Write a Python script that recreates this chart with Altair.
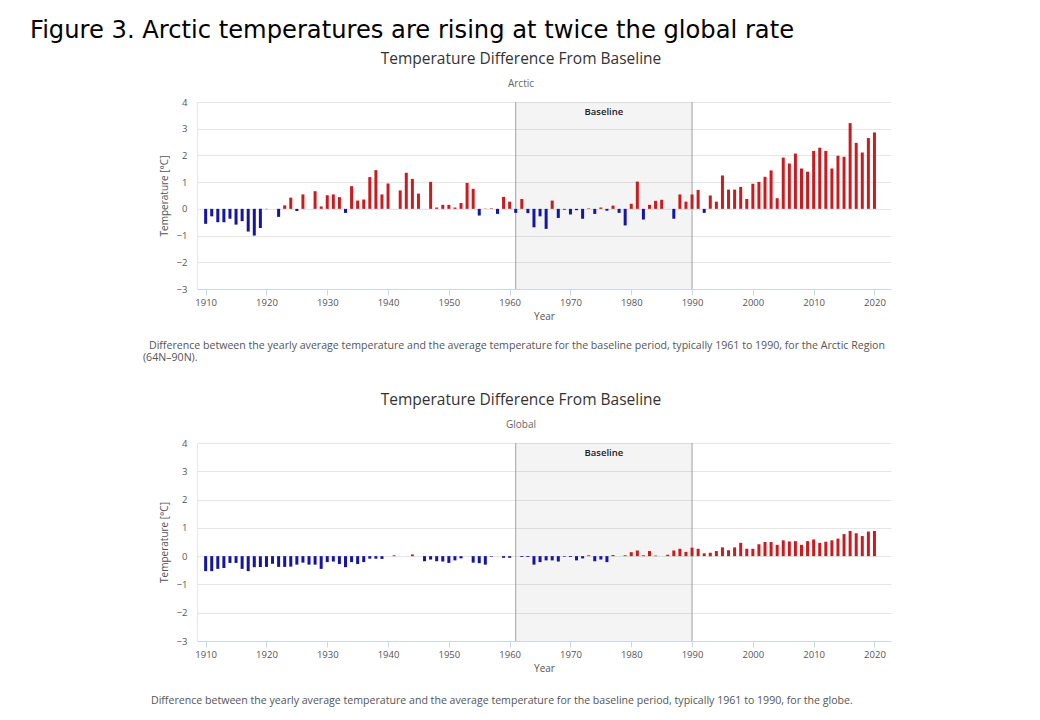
import altair as alt
import pandas as pd

years = list(range(1910, 2021))

arctic = [
    -0.56, -0.28, -0.50, -0.50, -0.37, -0.59, -0.46, -0.85, -1.00, -0.72,
    -0.01, 0.00, -0.30, 0.13, 0.42, -0.08, 0.54, 0.00, 0.66, 0.09,
    0.51, 0.54, 0.44, -0.15, 0.85, 0.31, 0.35, 1.19, 1.45, 0.54,
    0.95, 0.00, 0.69, 1.35, 1.12, 0.57, 0.00, 1.01, 0.05, 0.15,
    0.15, 0.05, 0.22, 0.97, 0.75, -0.25, 0.01, 0.02, -0.19, 0.45,
    0.27, -0.15, 0.37, -0.16, -0.69, -0.28, -0.75, 0.31, -0.34, -0.03,
    -0.21, -0.05, -0.37, 0.02, -0.19, 0.05, -0.07, 0.12, -0.15, -0.62,
    0.19, 1.02, -0.40, 0.15, 0.30, 0.34, 0.00, -0.37, 0.54, 0.27,
    0.54, 0.71, -0.15, 0.50, 0.27, 1.25, 0.72, 0.72, 0.82, 0.37,
    0.94, 1.01, 1.20, 1.44, 0.40, 1.92, 1.70, 2.07, 1.51, 1.39,
    2.17, 2.29, 2.17, 1.51, 1.99, 1.95, 3.21, 2.47, 2.11, 2.65,
    2.86,
]

global_vals = [
    -0.53, -0.53, -0.45, -0.42, -0.24, -0.24, -0.45, -0.53, -0.39, -0.38,
    -0.38, -0.27, -0.38, -0.38, -0.37, -0.30, -0.23, -0.30, -0.30, -0.45,
    -0.21, -0.19, -0.28, -0.39, -0.21, -0.28, -0.21, -0.09, -0.09, -0.10,
    0.00, 0.03, 0.00, 0.00, 0.06, 0.00, -0.18, -0.12, -0.18, -0.19,
    -0.24, -0.15, -0.08, 0.00, -0.23, -0.25, -0.30, -0.02, 0.00, -0.06,
    -0.06, 0.00, -0.03, -0.03, -0.30, -0.21, -0.15, -0.15, -0.19, -0.02,
    -0.03, -0.15, -0.08, 0.03, -0.18, -0.12, -0.21, 0.04, 0.00, 0.03,
    0.14, 0.20, 0.03, 0.18, 0.02, 0.00, 0.05, 0.20, 0.26, 0.15,
    0.30, 0.26, 0.10, 0.12, 0.18, 0.31, 0.21, 0.31, 0.47, 0.26,
    0.26, 0.42, 0.50, 0.50, 0.40, 0.56, 0.52, 0.53, 0.40, 0.53,
    0.59, 0.47, 0.51, 0.56, 0.62, 0.78, 0.89, 0.81, 0.71, 0.87,
    0.89,
]

baseline_start = [1961]
baseline_end = [1990]
baseline_label = ["Baseline"]

x_ticks = list(range(1910, 2021, 10))
y_ticks = [-3, -2, -1, 0, 1, 2, 3, 4]

fig_title = "Figure 3. Arctic temperatures are rising at twice the global rate"
panel_title = "Temperature Difference From Baseline"
arctic_caption = [
    "Difference between the yearly average temperature and the average temperature for the baseline period, typically 1961 to 1990, for the Arctic Region",
    "(64N\u201390N).",
]
global_caption = [
    "Difference between the yearly average temperature and the average temperature for the baseline period, typically 1961 to 1990, for the globe.",
]

RED = "#cc1b1f"
BLUE = "#1414a6"
FONT = "Open Sans"
W = 694

X_AXIS = alt.Axis(
    title="Year", values=x_ticks, format="d", grid=False,
    domainColor="#ccd6eb", tickColor="#ccd6eb", tickSize=6,
    labelColor="#555555", labelFont=FONT, labelFontSize=9.5,
    labelPadding=2, titleFont=FONT, titleFontSize=10,
    titleColor="#555555", titleFontWeight="normal", titlePadding=5,
)


def panel(values, height, subtitle, captions, cap_x, cap_off):
    xs = alt.Scale(domain=[1909.4, 2021.9], nice=False, zero=False)
    ys = alt.Scale(domain=[-3, 4], nice=False)
    df = pd.DataFrame({"year": years, "temp": values})
    band_df = pd.DataFrame({
        "start": baseline_start,
        "end": baseline_end,
        "mid": [(s + e) / 2 for s, e in zip(baseline_start, baseline_end)],
        "label": baseline_label,
    })
    band = alt.Chart(band_df)
    rect = band.mark_rect(color="#000000", opacity=0.045).encode(
        x=alt.X("start:Q", scale=xs, axis=X_AXIS),
        x2="end:Q",
        y=alt.value(0),
        y2=alt.value(height),
    )
    rule1 = band.mark_rule(color="#a0a0a0", strokeWidth=1).encode(
        x=alt.X("start:Q", scale=xs, axis=X_AXIS), y=alt.value(0), y2=alt.value(height)
    )
    rule2 = band.mark_rule(color="#a0a0a0", strokeWidth=1).encode(
        x=alt.X("end:Q", scale=xs, axis=X_AXIS), y=alt.value(0), y2=alt.value(height)
    )
    lbl = band.mark_text(font=FONT, fontSize=9.5, fontWeight=600, color="#222222", baseline="middle").encode(
        x=alt.X("mid:Q", scale=xs, axis=X_AXIS), y=alt.value(10), text="label:N"
    )
    bars = alt.Chart(df).mark_bar(width=3).encode(
        x=alt.X("year:Q", scale=xs, axis=X_AXIS),
        y=alt.Y(
            "temp:Q", scale=ys,
            axis=alt.Axis(
                title="Temperature [\u00b0C]", values=y_ticks, grid=True,
                gridColor="#e6e6e6", domain=True, domainColor="#e6e6e6", ticks=False,
                labelColor="#555555", labelFont=FONT, labelFontSize=9.5,
                labelPadding=10, titleFont=FONT, titleFontSize=10,
                titleColor="#555555", titleFontWeight="normal", titlePadding=7,
            ),
        ),
        color=alt.condition("datum.temp >= 0", alt.value(RED), alt.value(BLUE)),
    )
    layers = [rect, rule1, rule2, lbl, bars]
    for i, line in enumerate(captions):
        cdf = pd.DataFrame({"t": [line]})
        layers.append(
            alt.Chart(cdf).mark_text(
                font=FONT, fontSize=10.6, color="#555555", align="left", baseline="middle"
            ).encode(
                x=alt.value(cap_x[i]), y=alt.value(height + cap_off + 12 * i), text="t:N"
            )
        )
    return alt.layer(*layers).properties(
        width=W,
        height=height,
        title=alt.TitleParams(
            text=panel_title, subtitle=subtitle, anchor="middle", frame="group",
            dx=-23, font=FONT, fontSize=15.5, fontWeight="normal", color="#333333",
            subtitleFont=FONT, subtitleFontSize=10, subtitleColor="#666666",
            subtitlePadding=12, offset=8,
        ),
    )


top = panel(arctic, 187, "Arctic", arctic_caption, [-48, -54], 57)
bottom = panel(global_vals, 198, "Global", global_caption, [-46], 60)

chart = alt.vconcat(top, bottom, spacing=28).properties(
    title=alt.TitleParams(
        text=fig_title, anchor="start", font="DejaVu Sans", fontSize=24.2,
        fontWeight="normal", color="#000000", dx=-113, offset=8,
    ),
    padding={"left": 22, "top": 11, "right": 5, "bottom": 5},
).configure_view(stroke=None).configure_concat(spacing=28)

chart.save("out.html", embed_options={"renderer": "svg", "actions": False})
